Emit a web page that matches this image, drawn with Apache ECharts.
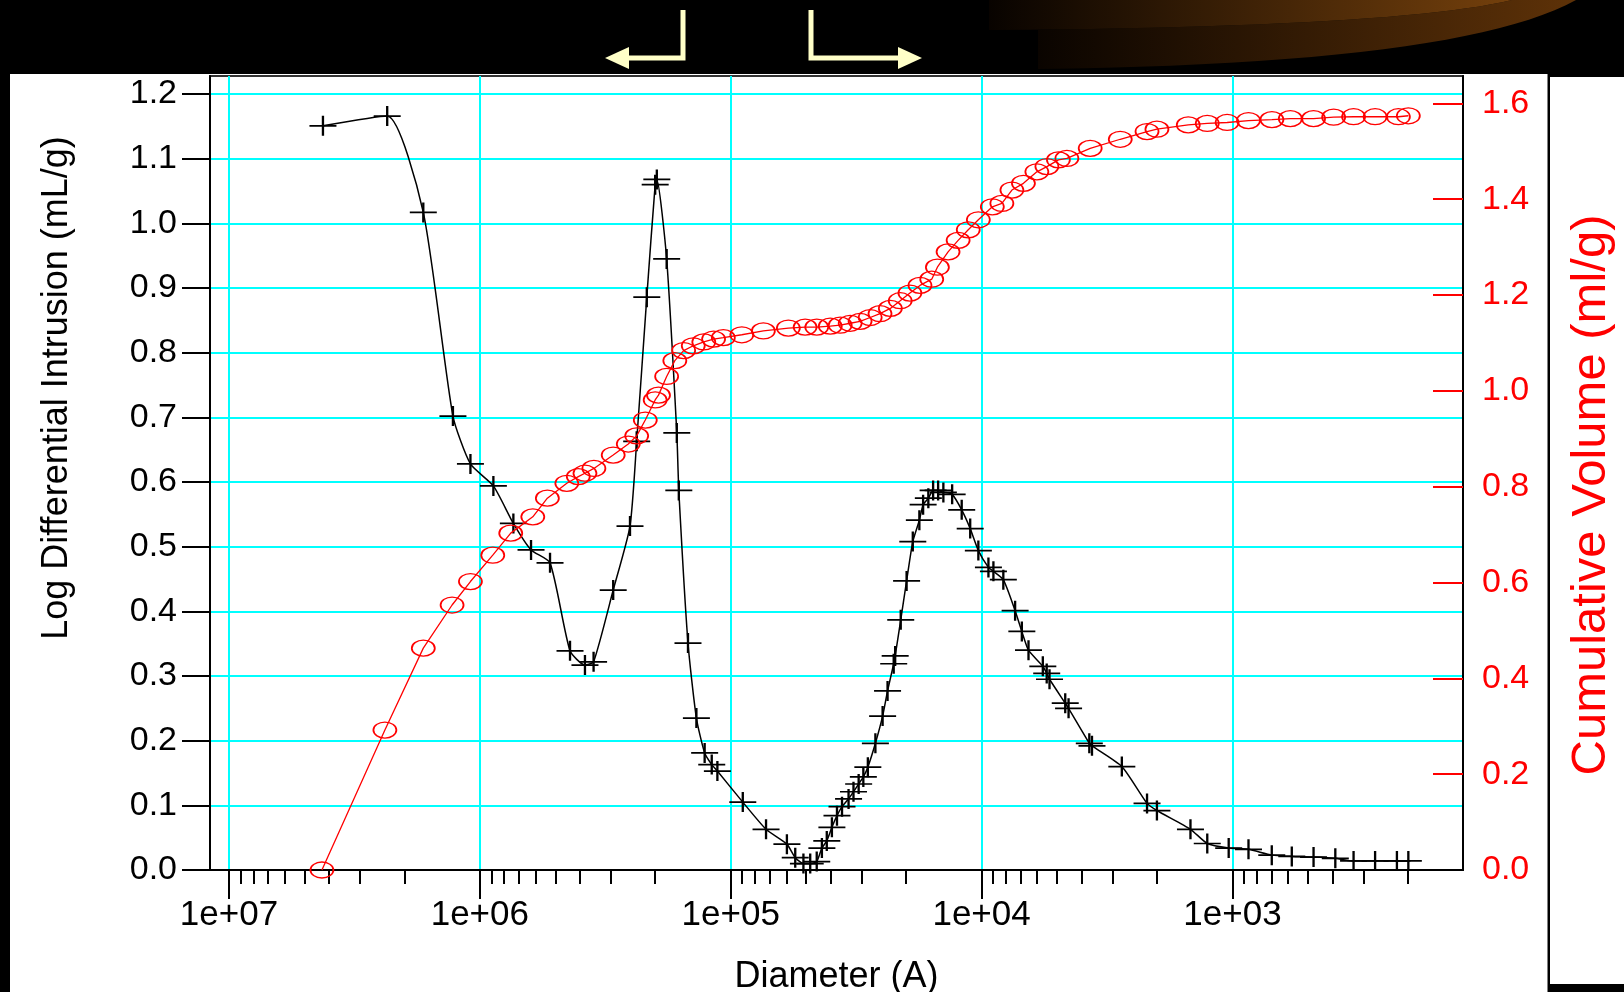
<!DOCTYPE html>
<html>
<head>
<meta charset="utf-8">
<script src="https://cdn.jsdelivr.net/npm/echarts@6/dist/echarts.min.js"></script>
<style>
    html, body { margin: 0; padding: 0; background: #000; }
    #chart { width: 1624px; height: 992px; }
</style>
</head>
<body>
<div id="chart"></div>
<script>
    // pore diameter (A) and log differential intrusion (mL/g), black "+" curve
    const blackDia = [4.22e6, 2.34e6, 1.68e6, 1.28e6, 1.09e6, 8.83e5, 7.35e5, 6.25e5, 5.25e5, 4.37e5,
        3.81e5, 3.52e5, 2.94e5, 2.52e5, 2.37e5, 2.16e5, 2.00e5, 1.97e5, 1.80e5, 1.64e5,
        1.61e5, 1.48e5, 1.37e5, 1.27e5, 1.19e5, 1.13e5, 8.95e4, 7.23e4, 5.97e4, 5.53e4,
        5.13e4, 4.82e4, 4.54e4, 4.33e4, 4.14e4, 3.95e4, 3.77e4, 3.60e4, 3.39e4, 3.24e4,
        3.09e4, 2.96e4, 2.84e4, 2.65e4, 2.48e4, 2.37e4, 2.24e4, 2.21e4, 2.10e4, 1.99e4,
        1.88e4, 1.77e4, 1.71e4, 1.63e4, 1.56e4, 1.49e4, 1.42e4, 1.31e4, 1.20e4, 1.11e4,
        1.03e4, 9.39e3, 8.97e3, 8.19e3, 7.35e3, 6.91e3, 6.50e3, 5.70e3, 5.50e3, 5.36e3,
        4.64e3, 4.50e3, 3.72e3, 3.63e3, 2.76e3, 2.19e3, 2.00e3, 1.47e3, 1.26e3, 1035,
        863, 697, 580, 475, 389, 329, 270, 221, 199];
    const logDiff = [1.151, 1.166, 1.017, 0.702, 0.628, 0.594, 0.536, 0.495, 0.475, 0.339,
        0.317, 0.322, 0.433, 0.532, 0.663, 0.886, 1.060, 1.068, 0.945, 0.676,
        0.587, 0.351, 0.235, 0.181, 0.163, 0.153, 0.105, 0.063, 0.040, 0.019,
        0.010, 0.010, 0.013, 0.034, 0.045, 0.066, 0.084, 0.098, 0.110, 0.121,
        0.133, 0.144, 0.159, 0.196, 0.238, 0.277, 0.319, 0.331, 0.387, 0.447,
        0.508, 0.541, 0.565, 0.575, 0.587, 0.587, 0.584, 0.581, 0.557, 0.528,
        0.494, 0.468, 0.462, 0.449, 0.401, 0.369, 0.340, 0.315, 0.304, 0.295,
        0.258, 0.250, 0.196, 0.192, 0.160, 0.103, 0.092, 0.063, 0.041, 0.034,
        0.032, 0.023, 0.021, 0.020, 0.018, 0.014, 0.014, 0.014, 0.014];

    // cumulative volume (ml/g), red circles
    const redDia = [4.26e6, 2.39e6, 1.68e6, 1.29e6, 1.09e6, 8.88e5, 7.53e5, 6.15e5, 5.38e5, 4.50e5,
        4.05e5, 3.81e5, 3.51e5, 2.94e5, 2.56e5, 2.37e5, 2.19e5, 2.00e5, 1.94e5, 1.80e5,
        1.67e5, 1.54e5, 1.41e5, 1.28e5, 1.17e5, 1.07e5, 9.03e4, 7.41e4, 5.89e4, 5.05e4,
        4.54e4, 4.01e4, 3.66e4, 3.34e4, 3.05e4, 2.78e4, 2.54e4, 2.31e4, 2.11e4, 1.93e4,
        1.76e4, 1.58e4, 1.50e4, 1.36e4, 1.24e4, 1.13e4, 1.03e4, 9.06e3, 8.30e3, 7.57e3,
        6.81e3, 6.02e3, 5.49e3, 4.94e3, 4.57e3, 3.69e3, 2.80e3, 2.19e3, 2.00e3, 1.50e3,
        1.26e3, 1.05e3, 863, 696, 588, 475, 395, 329, 270, 218, 199];
    const cumVol = [0.0, 0.292, 0.463, 0.553, 0.602, 0.657, 0.703, 0.737, 0.776, 0.807,
        0.821, 0.828, 0.838, 0.866, 0.889, 0.906, 0.939, 0.981, 0.991, 1.030,
        1.063, 1.084, 1.094, 1.102, 1.108, 1.111, 1.117, 1.125, 1.131, 1.133,
        1.133, 1.135, 1.137, 1.141, 1.145, 1.153, 1.161, 1.172, 1.188, 1.204,
        1.220, 1.233, 1.258, 1.290, 1.314, 1.336, 1.357, 1.384, 1.391, 1.419,
        1.433, 1.457, 1.468, 1.482, 1.485, 1.506, 1.525, 1.541, 1.546, 1.555,
        1.558, 1.560, 1.564, 1.566, 1.568, 1.568, 1.571, 1.572, 1.572, 1.572, 1.574];

    // ticks
    const xTickValues = [1e7, 1e6, 1e5, 1e4, 1e3];
    const xTickLabels = ['1e+07', '1e+06', '1e+05', '1e+04', '1e+03'];
    const leftTickValues = [0, 0.1, 0.2, 0.3, 0.4, 0.5, 0.6, 0.7, 0.8, 0.9, 1.0, 1.1, 1.2];
    const leftTickLabels = ['0.0', '0.1', '0.2', '0.3', '0.4', '0.5', '0.6', '0.7', '0.8', '0.9', '1.0', '1.1', '1.2'];
    const rightTickValues = [0, 0.2, 0.4, 0.6, 0.8, 1.0, 1.2, 1.4, 1.6];
    const rightTickLabels = ['0.0', '0.2', '0.4', '0.6', '0.8', '1.0', '1.2', '1.4', '1.6'];

    const xMin = 120.5, xMax = 1.19e7;
    const minorTicks = [];
    for (let p = 2; p <= 6; p++) {
        for (let k = 2; k <= 9; k++) minorTicks.push(k * Math.pow(10, p));
    }

    const FONT = '"Liberation Sans", Arial, sans-serif';
    const CYAN = '#00ffff';
    const YELLOW = '#ffffc8';

    function pick(values, labels, v) {
        for (let i = 0; i < values.length; i++) {
            if (Math.abs(values[i] - v) <= Math.abs(values[i]) * 1e-6 + 1e-9) return labels[i];
        }
        return '';
    }

    // quadratic curve points for the decorative swoosh
    function quad(p0, c, p1, n) {
        const pts = [];
        for (let i = 0; i <= n; i++) {
            const t = i / n, u = 1 - t;
            pts.push([u * u * p0[0] + 2 * u * t * c[0] + t * t * p1[0], u * u * p0[1] + 2 * u * t * c[1] + t * t * p1[1]]);
        }
        return pts;
    }
    const arcUpper = quad([1512, 0], [1400, 27], [994, 30], 24);
    const arcLower = quad([1038, 69], [1460, 64], [1576, 0], 24);

    const myChart = echarts.init(document.getElementById('chart'));

    const gridBox = { left: 210, right: 161, top: 76, bottom: 122 };

    const option = {
        backgroundColor: '#000',
        animation: false,
        graphic: {
            elements: [
                // slide panels
                { type: 'rect', z: -10, silent: true, shape: { x: 10, y: 74, width: 1537.5, height: 918 }, style: { fill: '#fff' } },
                { type: 'rect', z: -10, silent: true, shape: { x: 1550, y: 77, width: 74, height: 907 }, style: { fill: '#fff' } },
                // brown swoosh top right
                {
                    type: 'polygon', z: -10, silent: true,
                    shape: { points: [[1038, 30]].concat(arcLower, arcUpper.filter(p => p[0] >= 1038)) },
                    style: { fill: { type: 'linear', x: 0, y: 0, x2: 1, y2: 0, colorStops: [
                        { offset: 0, color: '#0a0400' }, { offset: 1, color: '#5e3208' }] } }
                },
                {
                    type: 'polygon', z: -10, silent: true,
                    shape: { points: [[989, 0]].concat(arcUpper, [[989, 30]]) },
                    style: { fill: { type: 'linear', x: 0, y: 0, x2: 1, y2: 0, colorStops: [
                        { offset: 0, color: '#080300' }, { offset: 1, color: '#74400c' }] } }
                },
                // arrows
                { type: 'polyline', silent: true, shape: { points: [[683, 10], [683, 58], [626, 58]] }, style: { stroke: YELLOW, lineWidth: 5, fill: null } },
                { type: 'polygon', silent: true, shape: { points: [[605, 58], [629, 47], [629, 69]] }, style: { fill: YELLOW } },
                { type: 'polyline', silent: true, shape: { points: [[811, 10], [811, 58], [902, 58]] }, style: { stroke: YELLOW, lineWidth: 5, fill: null } },
                { type: 'polygon', silent: true, shape: { points: [[922, 58], [898, 47], [898, 69]] }, style: { fill: YELLOW } }
            ]
        },
        grid: [
            Object.assign({ show: true, backgroundColor: '#fff', borderColor: '#333', borderWidth: 2, containLabel: false, outerBoundsMode: 'none' }, gridBox),
            Object.assign({ show: false, containLabel: false, outerBoundsMode: 'none' }, gridBox)
        ],
        xAxis: [
            {
                gridIndex: 0,
                type: 'log',
                logBase: 10,
                inverse: true,
                min: xMin,
                max: xMax,
                position: 'bottom',
                name: 'Diameter (A)',
                nameLocation: 'middle',
                nameGap: 89,
                nameMoveOverlap: false,
                nameTextStyle: { color: '#000', fontSize: 36, fontFamily: FONT },
                axisLine: { show: true, onZero: false, lineStyle: { color: '#000', width: 2 } },
                axisTick: { show: true, customValues: xTickValues, length: 29, lineStyle: { color: '#000', width: 2 } },
                axisLabel: {
                    customValues: xTickValues,
                    margin: 28,
                    color: '#000',
                    fontSize: 35,
                    fontFamily: FONT,
                    formatter: v => pick(xTickValues, xTickLabels, v)
                },
                splitLine: { show: true, lineStyle: { color: CYAN, width: 2 } }
            },
            {
                // minor decade ticks
                gridIndex: 1,
                type: 'log',
                logBase: 10,
                inverse: true,
                min: xMin,
                max: xMax,
                position: 'bottom',
                axisLine: { show: false },
                axisTick: { show: true, customValues: minorTicks, length: 14, lineStyle: { color: '#000', width: 2 } },
                axisLabel: { show: false },
                splitLine: { show: false }
            }
        ],
        yAxis: [
            {
                gridIndex: 0,
                type: 'value',
                min: 0,
                max: 1.228,
                position: 'left',
                name: 'Log Differential Intrusion (mL/g)',
                nameLocation: 'middle',
                nameRotate: 90,
                nameGap: 135,
                nameMoveOverlap: false,
                nameTextStyle: { color: '#000', fontSize: 36, fontFamily: FONT, padding: [0, 0, 0, 170] },
                axisLine: { show: true, onZero: false, lineStyle: { color: '#000', width: 2 } },
                axisTick: { show: true, customValues: leftTickValues, length: 28, lineStyle: { color: '#000', width: 2 } },
                axisLabel: {
                    customValues: leftTickValues,
                    margin: 33,
                    color: '#000',
                    fontSize: 34,
                    fontFamily: FONT,
                    formatter: v => pick(leftTickValues, leftTickLabels, v)
                },
                splitLine: { show: true, lineStyle: { color: CYAN, width: 2 } }
            },
            {
                gridIndex: 0,
                type: 'value',
                min: 0,
                max: 1.657,
                position: 'right',
                name: 'Cumulative Volume (ml/g)',
                nameLocation: 'middle',
                nameRotate: 90,
                nameGap: 104,
                nameMoveOverlap: false,
                nameTextStyle: { color: '#ff0000', fontSize: 49, fontFamily: FONT, padding: [0, 44, 0, 0] },
                axisLine: { show: true, onZero: false, lineStyle: { color: '#000', width: 2 } },
                axisTick: { show: true, inside: true, customValues: rightTickValues.slice(1), length: 30, lineStyle: { color: '#ff0000', width: 2 } },
                axisLabel: {
                    customValues: rightTickValues,
                    margin: 19,
                    color: '#ff0000',
                    fontSize: 34,
                    fontFamily: FONT,
                    formatter: v => pick(rightTickValues, rightTickLabels, v)
                },
                splitLine: { show: false }
            },
            { gridIndex: 1, type: 'value', min: 0, max: 1, show: false }
        ],
        series: [
            {
                name: 'Log Differential Intrusion',
                type: 'line',
                xAxisIndex: 0,
                yAxisIndex: 0,
                smooth: 0.2,
                symbol: 'path://M0,10 L27,10 M13.5,0 L13.5,20',
                symbolSize: [27, 20],
                itemStyle: { color: '#000', borderColor: '#000', borderWidth: 2 },
                lineStyle: { color: '#000', width: 1.5 },
                silent: true,
                z: 3,
                data: blackDia.map((d, i) => [d, logDiff[i]])
            },
            {
                name: 'Cumulative Volume',
                type: 'line',
                xAxisIndex: 0,
                yAxisIndex: 1,
                symbol: 'circle',
                symbolSize: [23, 16],
                itemStyle: { color: 'rgba(255,0,0,0)', borderColor: '#ff0000', borderWidth: 1.5 },
                lineStyle: { color: '#ff0000', width: 1.3 },
                silent: true,
                z: 4,
                data: redDia.map((d, i) => [d, cumVol[i]])
            }
        ]
    };

    myChart.setOption(option);
</script>
</body>
</html>
